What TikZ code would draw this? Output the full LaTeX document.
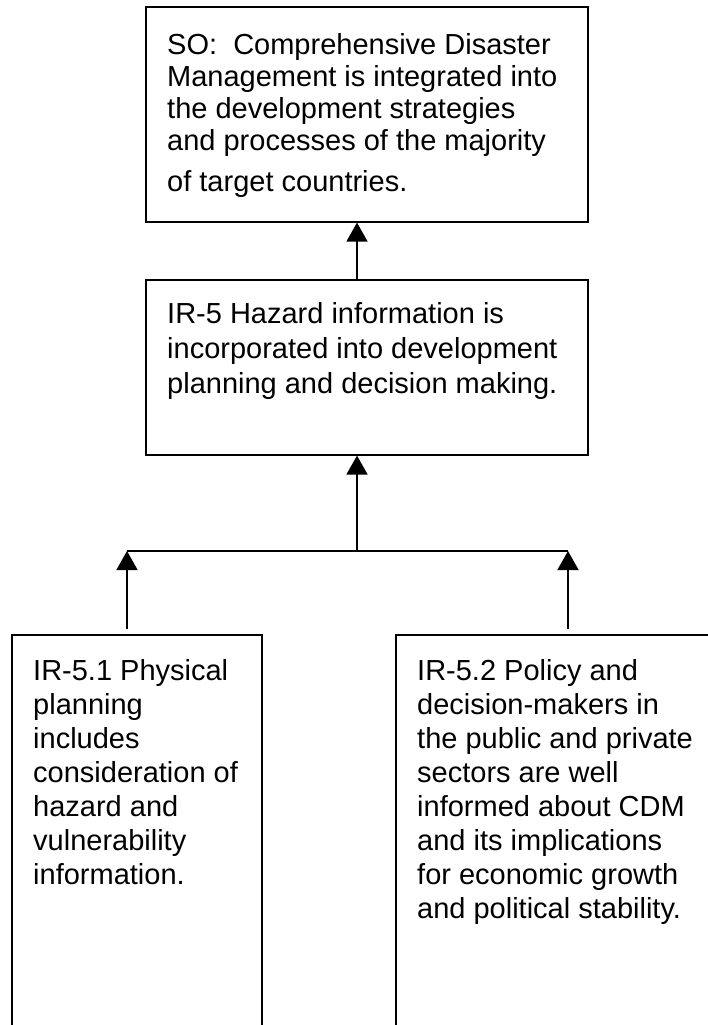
\documentclass[tikz,border=0pt]{standalone}
\usepackage{fontspec}
\setmainfont{Liberation Sans}
\usetikzlibrary{arrows.meta,calc}
\begin{document}
\begin{tikzpicture}[x=1pt,y=-1pt,
  box/.style={draw, line width=1.6pt, inner sep=0pt, anchor=north west},
  txt/.style={anchor=base west, inner sep=0pt, align=left},
  arr/.style={line width=1.6pt, -{Triangle[width=21pt,length=19pt]}},
  ln/.style={line width=1.6pt}]
\useasboundingbox (0,0) rectangle (708,1025);
\clip (0,0) rectangle (708,1025);
% boxes
\node[box, minimum width=442pt, minimum height=215pt] (so) at (145,6) {};
\node[box, minimum width=442pt, minimum height=175pt] (ir5) at (145,279) {};
\node[box, minimum width=250pt, minimum height=500pt] (p51) at (11,634) {};
\node[box, minimum width=400pt, minimum height=500pt] (p52) at (395,634) {};
% texts (base anchor = baseline of last line)
\node[txt, font=\fontsize{29}{32}\selectfont] (sotxt) at (167,191)
  {SO:\ \ Comprehensive Disaster\\Management is integrated into\\the development strategies\\and processes of the majority\\[9pt]of target countries.};
\node[txt, font=\fontsize{29}{35}\selectfont] (ir5txt) at (167,393)
  {IR-5 Hazard information is\\incorporated into development\\planning and decision making.};
\node[txt, font=\fontsize{29}{34}\selectfont] (p51txt) at (33,884)
  {IR-5.1 Physical\\planning\\includes\\consideration of\\hazard and\\vulnerability\\information.};
\node[txt, font=\fontsize{29}{34}\selectfont] (p52txt) at (417,918)
  {IR-5.2 Policy and\\decision-makers in\\the public and private\\sectors are well\\informed about CDM\\and its implications\\for economic growth\\and political stability.};
% connectors
\coordinate (j) at (357,551);
\coordinate (jl) at (127,551);
\coordinate (jr) at (568,551);
\draw[arr] ($(ir5.north west)+(212,0)$) -- ($(so.south west)+(212,0)$);
\draw[arr] (j) -- ($(ir5.south west)+(212,0)$);
\draw[ln] (jl) -- (jr);
\draw[arr] ($(p51.north west)+(116,-5)$) -- (jl);
\draw[arr] ($(p52.north west)+(173,-5)$) -- (jr);
\end{tikzpicture}
\end{document}
